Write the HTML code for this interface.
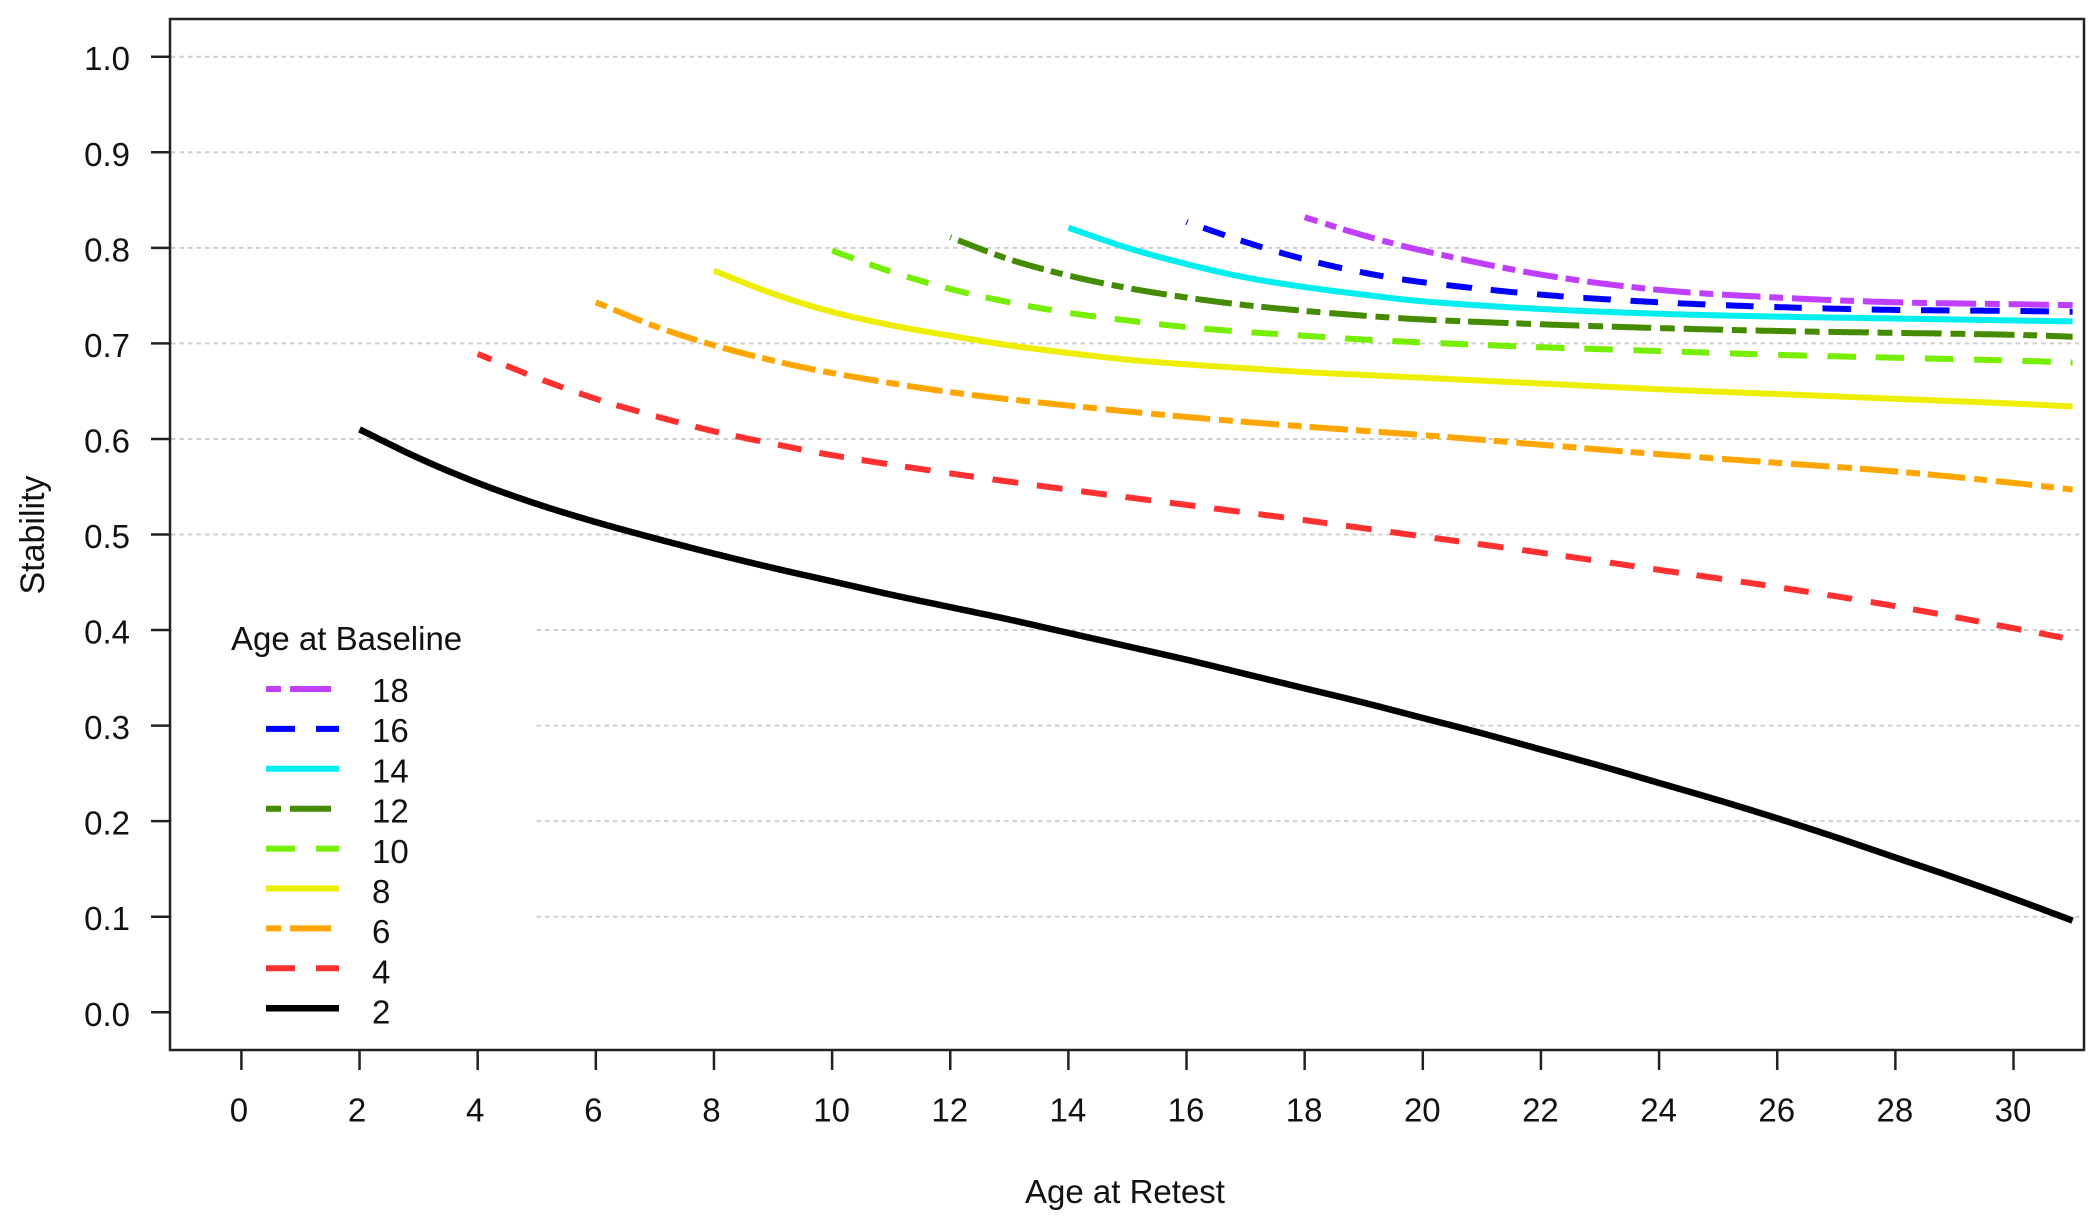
<!DOCTYPE html>
<html lang="en">
<head>
<meta charset="utf-8">
<title>Stability by Age at Retest</title>
<style>
  html, body { margin: 0; padding: 0; background: #fff; }
  svg { display: block; }
  text { font-family: "Liberation Sans", sans-serif; fill: #111; }
</style>
</head>
<body>
<svg id="chart" xmlns="http://www.w3.org/2000/svg" width="2100" height="1220" viewBox="0 0 2100 1220">
  <rect width="2100" height="1220" fill="#fff"/>
  <g id="grid"></g>
  <rect x="172" y="600" width="364" height="448" fill="#fff"/>
  <g id="series"></g>
  <g id="axes"></g>
  <rect x="170" y="19" width="1914" height="1031" fill="none" stroke="#222" stroke-width="2.5"/>
  <text x="1125" y="1203" font-size="33" text-anchor="middle">Age at Retest</text>
  <text transform="translate(44,535) rotate(-90)" font-size="34" text-anchor="middle">Stability</text>
  <g id="legend">
    <text x="231" y="650" font-size="33">Age at Baseline</text>
  </g>
</svg>
<script>
const xTicks = [0,2,4,6,8,10,12,14,16,18,20,22,24,26,28,30];
const yTicks = ["0.0","0.1","0.2","0.3","0.4","0.5","0.6","0.7","0.8","0.9","1.0"];
const gridValues = [0.1,0.2,0.3,0.4,0.5,0.6,0.7,0.8,0.9,1.0];

const ages2  = [2,3,4,5,6,7,8,9,10,11,12,13,14,15,16,17,18,19,20,21,22,23,24,25,26,27,28,29,30,31];
const stab2  = [.610,.580,.554,.532,.513,.496,.480,.465,.451,.437,.424,.411,.397,.383,.369,.354,.339,.324,.308,.292,.275,.258,.240,.222,.203,.183,.162,.141,.119,.096];
const ages4  = [4,5,6,7,8,9,10,12,14,16,18,20,22,24,26,28,30,31];
const stab4  = [.689,.664,.642,.624,.608,.595,.583,.564,.547,.531,.515,.498,.481,.463,.445,.425,.402,.390];
const ages6  = [6,7,8,9,10,12,14,16,18,20,22,24,26,28,30,31];
const stab6  = [.743,.718,.698,.682,.669,.649,.635,.623,.613,.604,.594,.584,.575,.566,.554,.547];
const ages8  = [8,9,10,11,12,13,14,15,16,17,18,19,20,22,24,26,28,30,31];
const stab8  = [.776,.752,.733,.719,.708,.698,.690,.683,.678,.674,.670,.667,.664,.658,.652,.647,.642,.637,.634];
const ages10 = [10,11,12,13,14,15,16,17,18,19,20,22,24,26,28,30,31];
const stab10 = [.797,.775,.757,.743,.732,.724,.717,.712,.708,.704,.701,.696,.692,.688,.685,.682,.680];
const ages12 = [12,13,14,15,16,17,18,19,20,22,24,26,28,30,31];
const stab12 = [.811,.788,.771,.758,.748,.740,.734,.729,.725,.720,.716,.713,.711,.709,.707];
const ages14 = [14,15,16,17,18,19,20,22,24,26,28,30,31];
const stab14 = [.821,.800,.783,.769,.759,.751,.744,.736,.731,.728,.726,.724,.723];
const ages16 = [16,17,18,19,20,22,24,26,28,30,31];
const stab16 = [.827,.806,.788,.774,.764,.751,.743,.738,.735,.734,.733];
const ages18 = [18,19,20,22,24,26,28,30,31];
const stab18 = [.832,.813,.797,.772,.756,.748,.743,.741,.740];

const baselineAges = ["18","16","14","12","10","8","6","4","2"];

const SVGNS = "http://www.w3.org/2000/svg";
function xScale(a) { return 241.4 + a * 59.07; }
function yScale(v) { return 1012.3 - v * 955.6; }
function make(tag, attrs, parent) {
  const el = document.createElementNS(SVGNS, tag);
  for (const k in attrs) el.setAttribute(k, attrs[k]);
  parent.appendChild(el);
  return el;
}

const LONG = [30, 20];
const TWO = [16, 8, 42, 8];
const styleFor = {
  "18": { color: "#BF3EFF", dash: TWO,  phase: 48, w: 6, ages: ages18, vals: stab18 },
  "16": { color: "#0000FF", dash: LONG, phase: 28, w: 6, ages: ages16, vals: stab16 },
  "14": { color: "#00EEEE", dash: null, phase: 0,  w: 6, ages: ages14, vals: stab14 },
  "12": { color: "#458B00", dash: TWO,  phase: 14, w: 6, ages: ages12, vals: stab12 },
  "10": { color: "#76EE00", dash: LONG, phase: 0,  w: 6, ages: ages10, vals: stab10 },
  "8":  { color: "#EEEE00", dash: null, phase: 0,  w: 6, ages: ages8,  vals: stab8 },
  "6":  { color: "#FFA500", dash: TWO,  phase: 0,  w: 6, ages: ages6,  vals: stab6 },
  "4":  { color: "#FF3030", dash: LONG, phase: 10, w: 6, ages: ages4,  vals: stab4 },
  "2":  { color: "#000000", dash: null, phase: 0,  w: 6.5, ages: ages2,  vals: stab2 }
};

function smooth(ages, vals) {
  const n = ages.length, m = [];
  for (let i = 0; i < n; i++) {
    const a = Math.max(i - 1, 0), b = Math.min(i + 1, n - 1);
    m.push((vals[b] - vals[a]) / (ages[b] - ages[a]));
  }
  const pts = [];
  for (let i = 0; i < n - 1; i++) {
    const h = ages[i + 1] - ages[i];
    const steps = Math.round(h * 60);
    for (let s = 0; s < steps; s++) {
      const t = s / steps, t2 = t * t, t3 = t2 * t;
      const v = (2*t3 - 3*t2 + 1) * vals[i] + (t3 - 2*t2 + t) * h * m[i] +
                (-2*t3 + 3*t2) * vals[i + 1] + (t3 - t2) * h * m[i + 1];
      pts.push([xScale(ages[i] + t * h), yScale(v)]);
    }
  }
  pts.push([xScale(ages[n - 1]), yScale(vals[n - 1])]);
  return pts;
}

function isOn(pos, pattern) {
  let acc = 0;
  for (let i = 0; i < pattern.length; i++) {
    acc += pattern[i];
    if (pos < acc) return i % 2 === 0;
  }
  return false;
}

function dashPath(pts, pattern, phase) {
  const fmt = p => p[0].toFixed(1) + " " + p[1].toFixed(1);
  if (!pattern) return "M" + pts.map(fmt).join("L");
  const total = pattern.reduce((a, b) => a + b, 0);
  let dist = 0, on = false, d = "";
  for (let i = 0; i < pts.length; i++) {
    if (i > 0) dist += Math.abs(pts[i][0] - pts[i-1][0]) + Math.abs(pts[i][1] - pts[i-1][1]);
    const state = isOn((dist + phase) % total, pattern);
    if (state) d += (on ? "L" : "M") + fmt(pts[i]);
    on = state;
  }
  return d;
}

function legendPoints(y) {
  const pts = [];
  for (let x = 266; x <= 339; x += 1) pts.push([x, y]);
  return pts;
}

const gridG = document.getElementById("grid");
gridValues.forEach(function (v) {
  const el = make("line", { x1: 171, x2: 2083, y1: yScale(v), y2: yScale(v), stroke: "#cfcfcf", "stroke-width": 2, "stroke-dasharray": "4.5 4" }, gridG);
  
  
});

const seriesG = document.getElementById("series");
baselineAges.slice().reverse().forEach(function (key) {
  const s = styleFor[key];
  const el = make("path", { d: dashPath(smooth(s.ages, s.vals), s.dash, s.phase), fill: "none", stroke: s.color, "stroke-width": s.w }, seriesG);
  
  
});

const axesG = document.getElementById("axes");
xTicks.forEach(function (t) {
  const x = xScale(t);
  const tick = make("line", { x1: x, x2: x, y1: 1050, y2: 1070, stroke: "#222", "stroke-width": 2.5 }, axesG);
  
  
  const label = make("text", { x: t < 10 ? x - 2.5 : x - 0.5, y: 1121.5, "font-size": 33, "text-anchor": "middle" }, axesG);
  label.textContent = t;
  
  
});
yTicks.forEach(function (t) {
  const y = yScale(parseFloat(t));
  const tick = make("line", { x1: 151, x2: 170, y1: y, y2: y, stroke: "#222", "stroke-width": 2.5 }, axesG);
  
  
  const label = make("text", { x: 130, y: y + 13.5, "font-size": 33, "text-anchor": "end" }, axesG);
  label.textContent = t;
  
  
});

const legendG = document.getElementById("legend");
const legendTop = 689, legendStep = 39.9, labelTop = 702, labelStep = 40.2;
baselineAges.forEach(function (key, i) {
  const s = styleFor[key];
  const y = legendTop + i * legendStep;
  const line = make("path", { d: dashPath(legendPoints(y), s.dash, 0), fill: "none", stroke: s.color, "stroke-width": s.w }, legendG);
  
  
  const label = make("text", { x: 372, y: labelTop + i * labelStep, "font-size": 33 }, legendG);
  label.textContent = key;
  
  
});
</script>
</body>
</html>
